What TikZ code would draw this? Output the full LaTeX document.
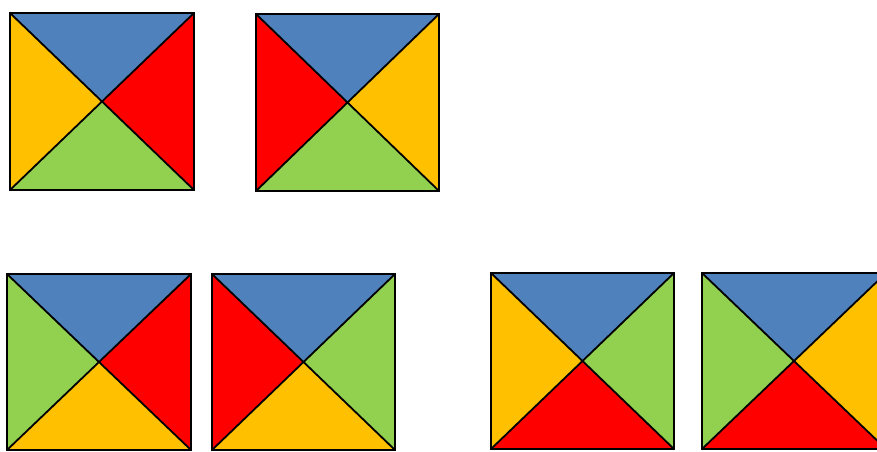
\documentclass[tikz,border=0pt]{standalone}
\definecolor{qblue}{RGB}{79,129,189}
\definecolor{qred}{RGB}{255,0,0}
\definecolor{qgreen}{RGB}{146,208,80}
\definecolor{qyellow}{RGB}{255,192,0}
\newcommand{\quadsquare}[8]{%
  \coordinate (A) at (#1,#2);
  \coordinate (B) at (#3,#2);
  \coordinate (C) at (#3,#4);
  \coordinate (D) at (#1,#4);
  \coordinate (M) at ({(#1+#3)/2},{(#2+#4)/2});
  \fill[#5] (A) -- (B) -- (M) -- cycle;
  \fill[#6] (B) -- (C) -- (M) -- cycle;
  \fill[#7] (C) -- (D) -- (M) -- cycle;
  \fill[#8] (D) -- (A) -- (M) -- cycle;
  \draw[edge] (A) -- (B) -- (C) -- (D) -- cycle;
  \draw[edge] (A) -- (C) (B) -- (D);
}
\begin{document}
\begin{tikzpicture}[x=1pt,y=-1pt,edge/.style={black,line width=1.8pt,line join=miter}]
\useasboundingbox (0,0) rectangle (877,451);
\clip (0,0) rectangle (877,451);
\fill[white] (0,0) rectangle (877,451);
\quadsquare{10}{13}{194}{190}{qblue}{qred}{qgreen}{qyellow}
\quadsquare{256}{14}{439}{191}{qblue}{qyellow}{qgreen}{qred}
\quadsquare{7}{274}{191}{450}{qblue}{qred}{qyellow}{qgreen}
\quadsquare{212}{274}{395}{450}{qblue}{qgreen}{qyellow}{qred}
\quadsquare{491}{273}{674}{449}{qblue}{qgreen}{qred}{qyellow}
\quadsquare{702}{273}{886}{449}{qblue}{qyellow}{qred}{qgreen}
\end{tikzpicture}
\end{document}
